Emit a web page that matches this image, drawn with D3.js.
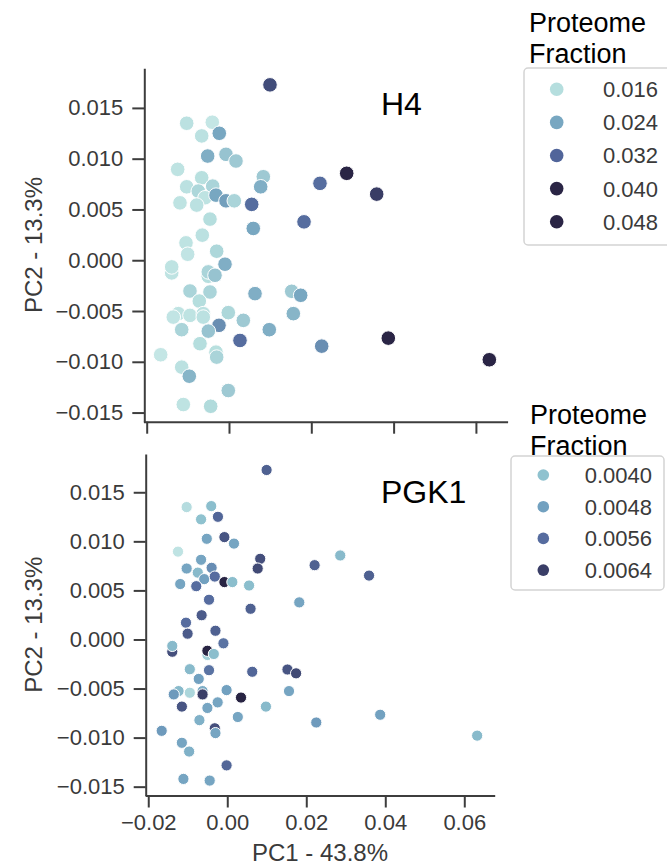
<!DOCTYPE html>
<html>
<head>
<meta charset="utf-8">
<script src="https://cdn.jsdelivr.net/npm/d3@7"></script>
<style>
  body { margin: 0; background: #fff; }
  svg { font-family: "Liberation Sans", Arial, sans-serif; }
  .axis path, .axis line { stroke: #3d3d3d; stroke-width: 2; }
  .axis text { fill: #3a3a3a; font-size: 22px; font-family: "Liberation Sans", Arial, sans-serif; }
</style>
</head>
<body>
<svg id="chart" width="667" height="867"></svg>
<script>
// PCA coordinates of each sample (same samples in both panels)
var pc1 = [0.00996, -0.01028, -0.00406, -0.00663, -0.00236, -0.00518, -0.00073, 0.0017, -0.01247, -0.00663,
           0.00834, 0.0077, 0.02211, -0.01028, -0.00746, -0.00396, -0.00583, -0.00316, -0.00073, 0.00129,
           -0.01191, -0.00785, 0.00552, 0.01823, -0.00462, 0.0059, -0.00649, -0.01045, -0.01004, -0.00299,
           -0.00097, 0.0286, 0.03589, 0.01524, 0.01742, 0.01563, 0.02253, 0.03871, 0.06326, -0.01392,
           -0.01392, -0.00503, -0.00503, -0.0034, -0.00948, -0.00462, 0.00632, -0.00722, -0.01232, -0.01354,
           -0.00948, -0.00625, -0.00625, -0.00017, 0.00348, -0.00243, -0.00503, -0.01149, 0.00979, 0.00267,
           -0.00705, -0.0166, -0.00316, -0.00299, -0.01149, -0.00965, -0.00017, -0.0111, -0.00445];
var pc2 = [0.01727, 0.01349, 0.01359, 0.01224, 0.0125, 0.01026, 0.01043, 0.00977, 0.00895, 0.00812,
           0.00822, 0.00723, 0.00757, 0.00723, 0.00681, 0.0073, 0.00615, 0.00641, 0.00585, 0.00585,
           0.00565, 0.00543, 0.0055, 0.00378, 0.00405, 0.00313, 0.00247, 0.00171, 0.00059, 0.00089,
           -0.00039, 0.00856, 0.00651, -0.00306, -0.00345, -0.00526, -0.00846, -0.00767, -0.0098, -0.00125,
           -0.00066, -0.00158, -0.00115, -0.00148, -0.00303, -0.00313, -0.00329, -0.00402, -0.00526, -0.0056,
           -0.00543, -0.00526, -0.0056, -0.00516, -0.00592, -0.00641, -0.00698, -0.00684, -0.00684, -0.0079,
           -0.00822, -0.00931, -0.00905, -0.00954, -0.01053, -0.01142, -0.01283, -0.01421, -0.01438];
// proteome fraction of each protein per sample
var h4Fraction = [0.035, 0.015, 0.0135, 0.015, 0.024, 0.023, 0.020, 0.019, 0.0145, 0.0155,
                  0.019, 0.023, 0.031, 0.015, 0.017, 0.0175, 0.0145, 0.024, 0.025, 0.0175,
                  0.0145, 0.015, 0.031, 0.031, 0.016, 0.024, 0.015, 0.0145, 0.014, 0.017,
                  0.023, 0.040, 0.037, 0.019, 0.024, 0.022, 0.027, 0.041, 0.042, 0.0145,
                  0.0145, 0.016, 0.0175, 0.020, 0.0175, 0.0175, 0.023, 0.016, 0.0145, 0.014,
                  0.0145, 0.015, 0.015, 0.017, 0.019, 0.027, 0.020, 0.0175, 0.023, 0.031,
                  0.016, 0.0135, 0.0155, 0.0175, 0.015, 0.022, 0.019, 0.0145, 0.0165];
var pgk1Fraction = [0.0058, 0.0036, 0.0041, 0.0040, 0.0057, 0.0047, 0.0060, 0.0047, 0.0035, 0.0047,
                    0.0061, 0.0062, 0.0058, 0.0047, 0.0042, 0.0051, 0.0048, 0.0056, 0.0068, 0.0041,
                    0.0047, 0.0056, 0.0041, 0.0047, 0.0056, 0.0058, 0.0059, 0.0056, 0.0059, 0.0058,
                    0.0055, 0.0042, 0.0058, 0.0060, 0.0062, 0.0047, 0.0049, 0.0048, 0.0042, 0.0061,
                    0.0042, 0.0038, 0.0068, 0.0041, 0.0042, 0.0055, 0.0057, 0.0048, 0.0042, 0.0049,
                    0.0037, 0.0045, 0.0064, 0.0048, 0.0068, 0.0047, 0.0047, 0.0060, 0.0042, 0.0047,
                    0.0044, 0.0049, 0.0061, 0.0047, 0.0047, 0.0044, 0.0057, 0.0047, 0.0047];

var xTicks = [-0.02, 0.00, 0.02, 0.04, 0.06];
var yTicks = [0.015, 0.010, 0.005, 0.000, -0.005, -0.010, -0.015];
var h4Legend = [0.016, 0.024, 0.032, 0.040, 0.048];
var pgk1Legend = [0.0040, 0.0048, 0.0056, 0.0064];

var xDomain = [-0.0208, 0.0677];
var yDomain = [-0.0159, 0.0189];

var svg = d3.select("#chart");

var panels = [
  {
    title: "H4", values: h4Fraction, legendValues: h4Legend, fmt: d3.format(".3f"),
    xRange: [143.4, 507.6], yRange: [421.7, 68.3], yAxisX: 144.3, r: 7.3, showX: false,
    color: d3.scaleLinear().domain([0.0135, 0.016, 0.024, 0.032, 0.040])
      .range(["#c4e6e5", "#b5dede", "#78a7c1", "#51659a", "#2a2545"]).clamp(true),
    titleY: 115, legTitleX: 529, legTitleY: 32, box: [524, 68, 150, 177],
    legX: 556.7, legY0: 89.3, legStep: 33.1, legR: 6.8, legTextX: 658
  },
  {
    title: "PGK1", values: pgk1Fraction, legendValues: pgk1Legend, fmt: d3.format(".4f"),
    xRange: [145.1, 494.7], yRange: [795.5, 454], yAxisX: 145.7, r: 5.6, showX: true,
    color: d3.scaleLinear().domain([0.0035, 0.0040, 0.0048, 0.0056, 0.0064, 0.0068])
      .range(["#bfe3e3", "#8fc2cf", "#72a1c0", "#566c9f", "#3a3e67", "#282443"]).clamp(true),
    titleY: 502.7, legTitleX: 530, legTitleY: 424, box: [511, 456, 153, 134],
    legX: 543.3, legY0: 475, legStep: 31.7, legR: 5.8, legTextX: 652
  }
];

panels.forEach(function (p) {
  var x = d3.scaleLinear().domain(xDomain).range(p.xRange);
  var y = d3.scaleLinear().domain(yDomain).range(p.yRange);

  // x axis (labels only on the lower panel)
  var xAxis = d3.axisBottom(x).tickValues(xTicks).tickSize(12).tickSizeOuter(0).tickPadding(7)
    .tickFormat(p.showX ? d3.format(".2f") : function () { return ""; });
  svg.append("g").attr("class", "axis")
    .attr("transform", "translate(0," + p.yRange[0] + ")")
    .call(xAxis);

  var yAxis = d3.axisLeft(y).tickValues(yTicks).tickSize(12).tickSizeOuter(0).tickPadding(9)
    .tickFormat(d3.format(".3f"));
  svg.append("g").attr("class", "axis")
    .attr("transform", "translate(" + p.yAxisX + ",0)")
    .call(yAxis);

  svg.selectAll(".axis .domain").attr("fill", "none");

  // y label
  svg.append("text")
    .attr("transform", "translate(42," + ((p.yRange[0] + p.yRange[1]) / 2) + ") rotate(-90)")
    .attr("text-anchor", "middle")
    .attr("font-size", 24).attr("fill", "#3a3a3a")
    .text("PC2 - 13.3%");

  // points
  svg.append("g").selectAll("circle")
    .data(d3.range(pc1.length))
    .enter().append("circle")
    .attr("cx", function (i) { return x(pc1[i]); })
    .attr("cy", function (i) { return y(pc2[i]); })
    .attr("r", p.r)
    .attr("fill", function (i) { return p.color(p.values[i]); })
    .attr("stroke", "#fff")
    .attr("stroke-width", 1);

  // panel title
  svg.append("text").attr("x", 381).attr("y", p.titleY)
    .attr("font-size", 32).attr("fill", "#000").text(p.title);

  // legend title
  svg.append("text").attr("x", p.legTitleX).attr("y", p.legTitleY)
    .attr("font-size", 27).attr("fill", "#000").text("Proteome");
  svg.append("text").attr("x", p.legTitleX).attr("y", p.legTitleY + 31)
    .attr("font-size", 27).attr("fill", "#000").text("Fraction");

  svg.append("rect")
    .attr("x", p.box[0]).attr("y", p.box[1]).attr("width", p.box[2]).attr("height", p.box[3])
    .attr("rx", 4).attr("fill", "#fff").attr("stroke", "#d4d4d4").attr("stroke-width", 1.5);

  var leg = svg.append("g").selectAll("g")
    .data(p.legendValues)
    .enter().append("g")
    .attr("transform", function (d, i) { return "translate(0," + (p.legY0 + i * p.legStep) + ")"; });
  leg.append("circle").attr("cx", p.legX).attr("cy", 0).attr("r", p.legR)
    .attr("fill", function (d) { return p.color(d); });
  leg.append("text").attr("x", p.legTextX).attr("y", 0).attr("dy", "0.36em")
    .attr("text-anchor", "end").attr("font-size", 22).attr("fill", "#3a3a3a")
    .text(function (d) { return p.fmt(d); });
});

// x label
svg.append("text").attr("x", 320).attr("y", 861)
  .attr("text-anchor", "middle").attr("font-size", 24).attr("fill", "#3a3a3a")
  .text("PC1 - 43.8%");
</script>
</body>
</html>
